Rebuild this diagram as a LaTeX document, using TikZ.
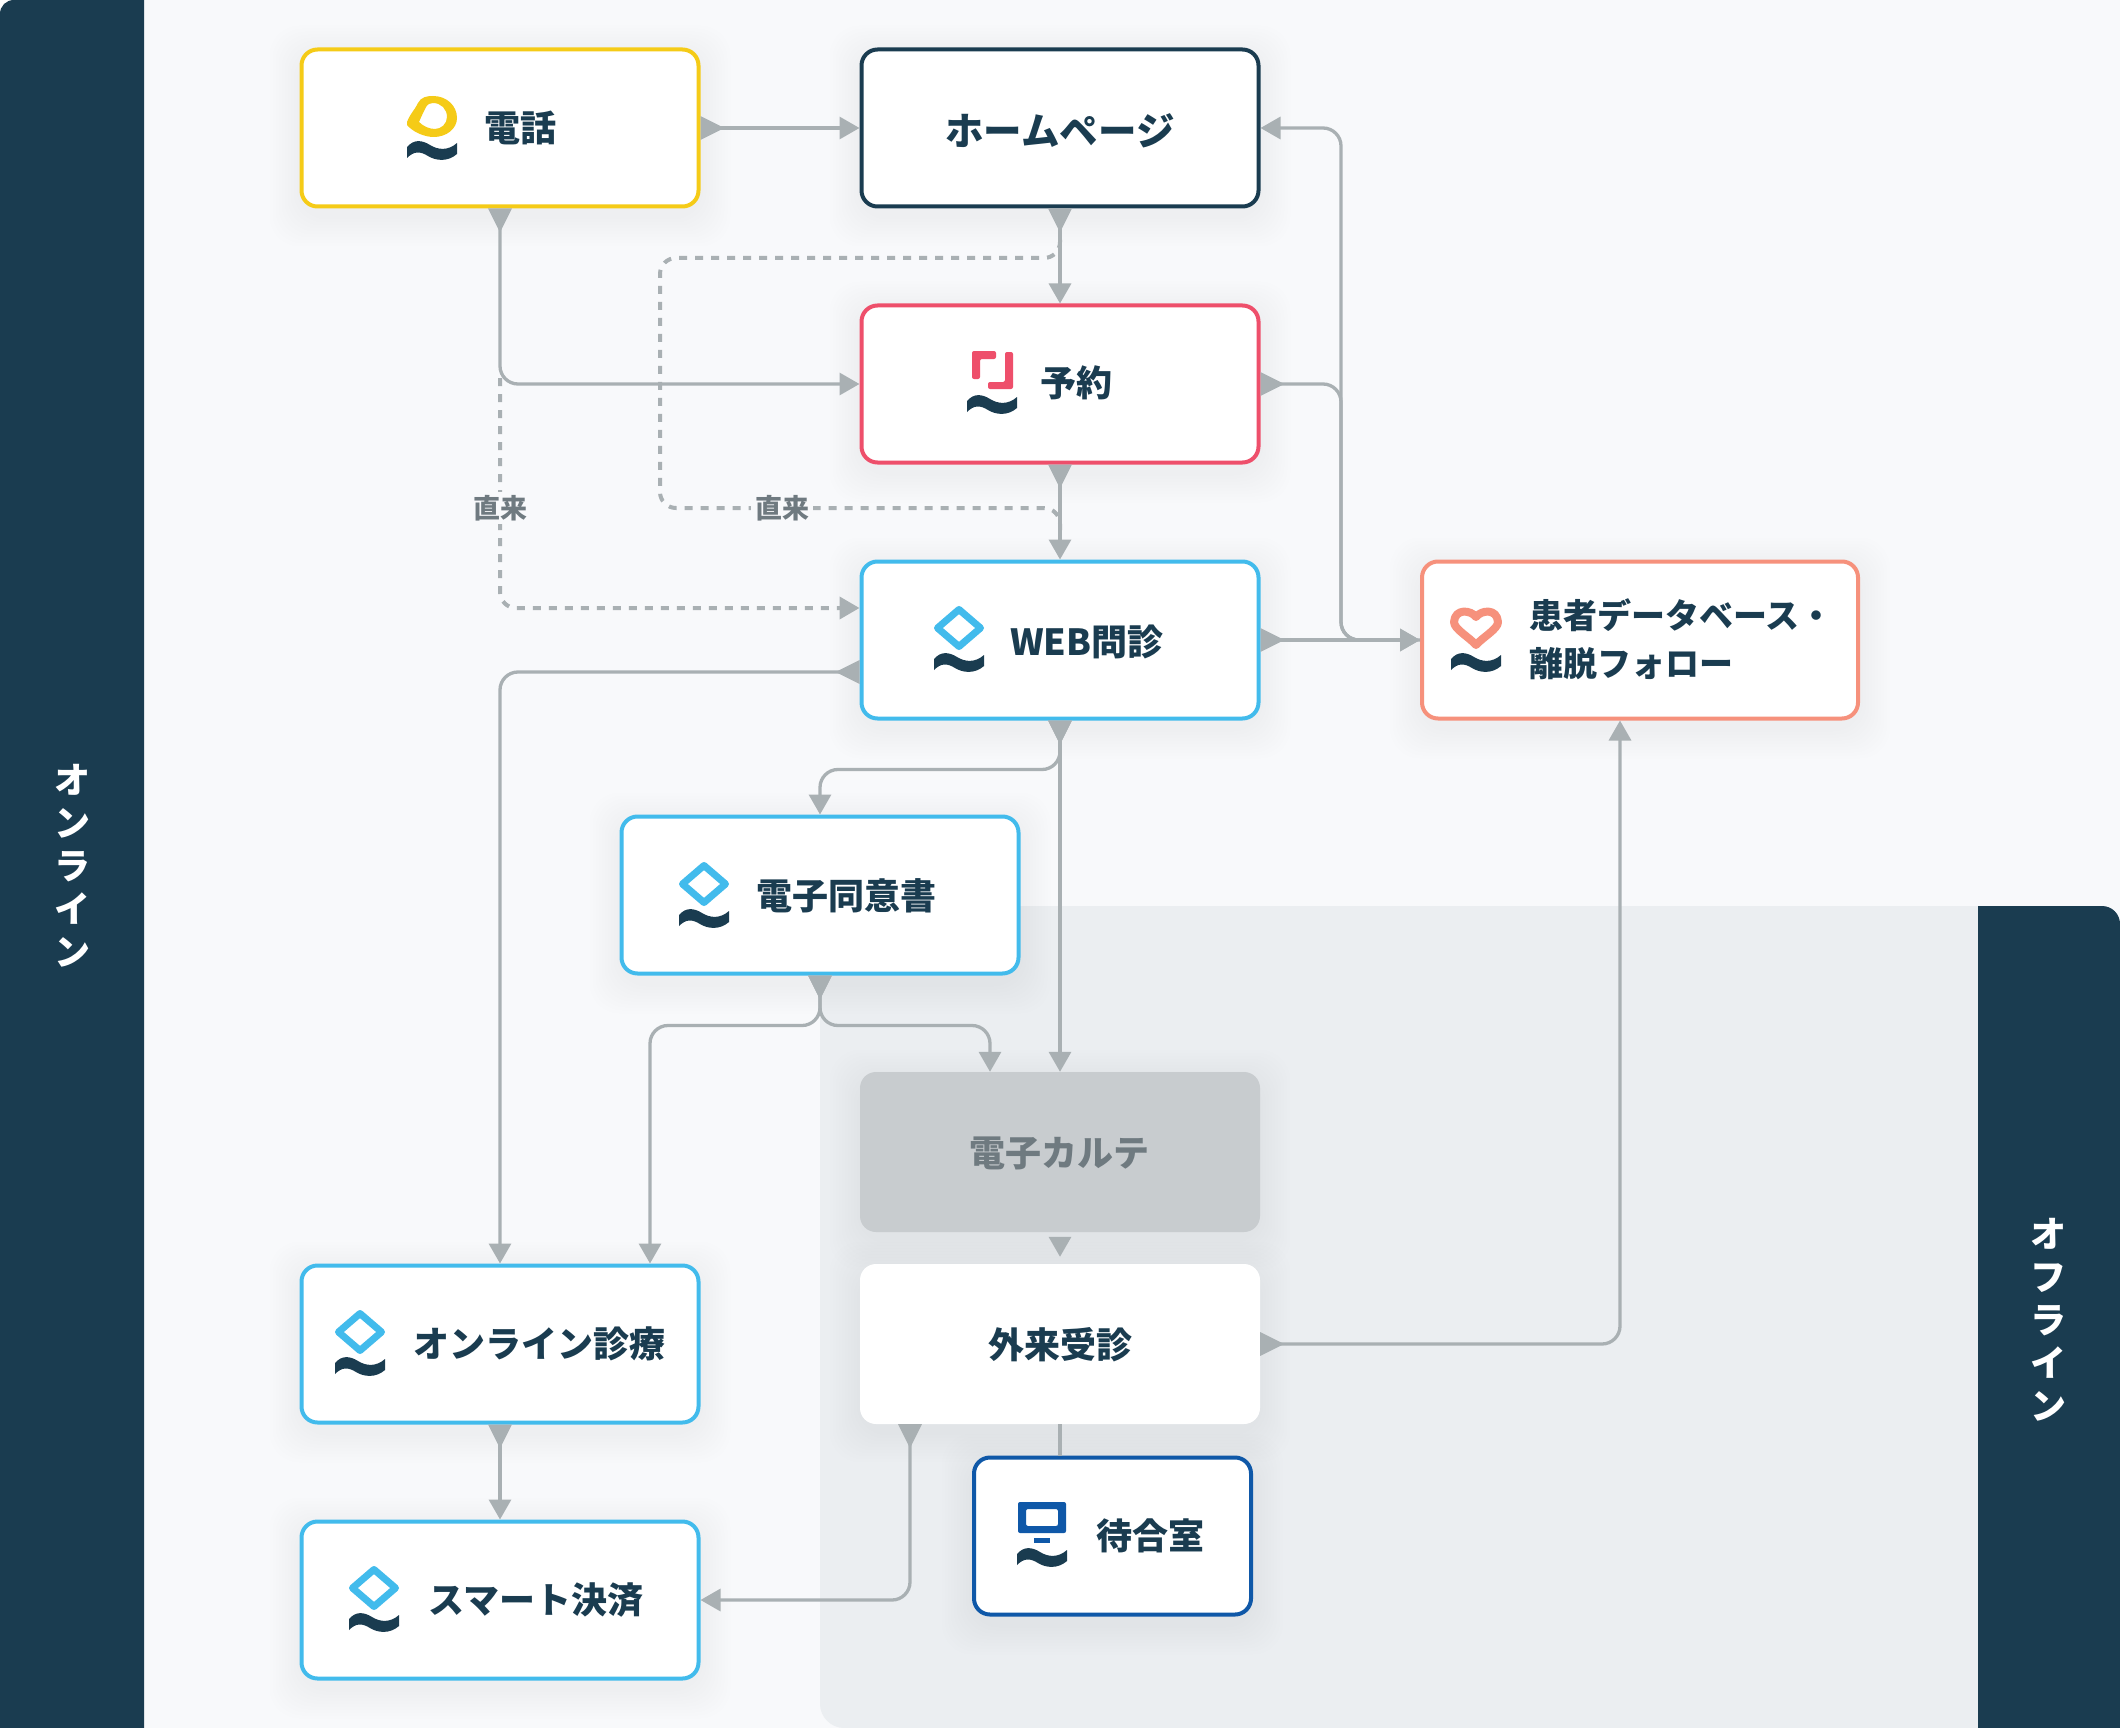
\documentclass[tikz,border=0pt]{standalone}
\usepackage{fontspec}
\setmainfont{Noto Sans CJK JP}[BoldFont=Noto Sans CJK JP Black]
\usetikzlibrary{arrows.meta,backgrounds}

\definecolor{navy}{HTML}{1A3C50}
\definecolor{pagebg}{HTML}{F8F9FB}
\definecolor{offbg}{HTML}{EBEEF1}
\definecolor{linegray}{HTML}{A9B0B3}
\definecolor{textgray}{HTML}{6F7A80}
\definecolor{kartebg}{HTML}{C8CCCF}
\definecolor{telyellow}{HTML}{F5CB17}
\definecolor{bookpink}{HTML}{EE4F6B}
\definecolor{webcyan}{HTML}{42BBEC}
\definecolor{heartred}{HTML}{F6917C}
\definecolor{roomblue}{HTML}{0F58A8}

\tikzset{
	box/.style={draw=#1,fill=white,rounded corners=16pt,line width=4pt,minimum width=397pt,minimum height=157pt,inner sep=0pt},
	plainbox/.style={fill=#1,rounded corners=16pt,minimum width=400pt,minimum height=160pt,inner sep=0pt},
	lbl/.style={font=\fontsize{36}{44}\selectfont\bfseries,text=navy,inner sep=0pt},
	sidelbl/.style={font=\fontsize{36}{43}\selectfont\bfseries,text=white,align=center,inner sep=0pt},
	directlbl/.style={font=\fontsize{27}{30}\selectfont\bfseries,text=textgray,fill=pagebg,inner xsep=4pt,inner ysep=3pt},
	conn/.style={draw=linegray,line width=3.3pt,rounded corners=18pt},
	flowin/.style={conn,-{Triangle[length=20pt,width=22pt]}},
	flowboth/.style={conn,{Triangle[reversed,length=24pt,width=23pt]}-{Triangle[length=20pt,width=22pt]}},
	dashline/.style={conn,line width=4pt,dash pattern=on 8pt off 8pt,rounded corners=16pt},
	pics/wave/.style={code={
		\fill[navy] (-25,-3) .. controls (-18,-11) and (-10,-10) .. (-2,-5) .. controls (6,0) and (16,1) .. (25,-7) -- (25,4) .. controls (16,12) and (4,11) .. (-4,6) .. controls (-12,1) and (-18,1) .. (-25,8) -- cycle;
	}},
	pics/teleicon/.style={code={
		\fill[telyellow,even odd rule] (-25,6) .. controls (-22,-2) and (-16,-8) .. (-14,-13) .. controls (-11,-19) and (-5,-20) .. (1,-20) .. controls (15,-20) and (25,-10) .. (25,2) .. controls (25,13) and (14,21) .. (2,21) .. controls (-8,21) and (-19,16) .. (-25,9) -- cycle
			(-13,6) .. controls (-10,-1) and (-8,-5) .. (-6,-9) .. controls (-4,-12) and (-2,-13) .. (1,-13) .. controls (9,-13) and (15,-7) .. (15,1) .. controls (15,8) and (9,13) .. (3,13) .. controls (-3,13) and (-9,10) .. (-13,6) -- cycle;
		\pic at (0,34) {wave};
	}},
	pics/bookicon/.style={code={
		\fill[bookpink,rounded corners=2pt] (-20,-19) -- (4,-19) -- (4,-11) -- (-12,-11) -- (-12,9) -- (-20,9) -- cycle;
		\fill[bookpink,rounded corners=2pt] (13,-18) -- (21,-18) -- (21,19) -- (-4,19) -- (-4,12) -- (13,12) -- cycle;
		\pic at (0,34) {wave};
	}},
	pics/webicon/.style={code={
		\draw[webcyan,line width=7pt,line join=round] (0,-18.5) -- (21.5,0) -- (0,18.5) -- (-21.5,0) -- cycle;
		\pic at (0,34) {wave};
	}},
	pics/hearticon/.style={code={
		\draw[heartred,line width=8pt,line join=round] (0,-10) .. controls (-5,-17) and (-21,-19) .. (-22,-5) .. controls (-22,2) and (-7,10) .. (0,18) .. controls (7,10) and (22,2) .. (22,-5) .. controls (21,-19) and (5,-17) .. (0,-10) -- cycle;
		\pic at (0,35) {wave};
	}},
	pics/roomicon/.style={code={
		\fill[roomblue,even odd rule,rounded corners=2pt] (-24,-28) rectangle (24,3) (-16,-21) rectangle (16,-4);
		\fill[roomblue] (-8,8) rectangle (8,13);
		\pic at (0,27) {wave};
	}},
}

\newcommand{\softshadow}[1]{
	\foreach \r in {3,6,...,30}
		\fill[navy,opacity=0.004,rounded corners=30pt] ([xshift=-\r pt,yshift=-\r pt-8pt]#1.south west) rectangle ([xshift=\r pt,yshift=\r pt-8pt]#1.north east);
}

\begin{document}
\begin{tikzpicture}[x=1pt,y=-1pt]
	\useasboundingbox (0,0) rectangle (2120,1728);

	% boxes
	\node[box=telyellow] (tel) at (500,128) {};
	\node[box=navy] (home) at (1060,128) {};
	\node[box=bookpink] (book) at (1060,384) {};
	\node[box=webcyan] (web) at (1060,640) {};
	\node[box=heartred,minimum width=436pt] (patient) at (1640,640) {};
	\node[box=webcyan] (consent) at (820,895) {};
	\node[plainbox=kartebg] (karte) at (1060,1152) {};
	\node[plainbox=white] (clinic) at (1060,1344) {};
	\node[box=webcyan] (online) at (500,1344) {};
	\node[box=webcyan] (smart) at (500,1600) {};
	\node[box=roomblue,minimum width=277pt] (room) at (1112.5,1536) {};

	% texts
	\node[lbl] (teltext) at (520,128) {電話};
	\node[lbl,font=\fontsize{38.5}{44}\selectfont\bfseries] (hometext) at (1060,131) {ホームページ};
	\node[lbl] (booktext) at (1076,383) {予約};
	\node[lbl] (webtext) at (1087,642) {WEB問診};
	\node[lbl,font=\fontsize{34}{48}\selectfont\bfseries,align=left,anchor=west] (patienttext) at (1529,639) {患者データベース・\\離脱フォロー};
	\node[lbl] (consenttext) at (846,896) {電子同意書};
	\node[lbl,text=textgray] (kartetext) at (1059,1153) {電子カルテ};
	\node[lbl] (clinictext) at (1060,1345) {外来受診};
	\node[lbl] (onlinetext) at (539,1344) {オンライン診療};
	\node[lbl] (smarttext) at (536,1600) {スマート決済};
	\node[lbl] (roomtext) at (1150,1536) {待合室};

	% icons
	\pic at (432,116) {teleicon};
	\pic at (992,370) {bookicon};
	\pic at (959,628) {webicon};
	\pic at (1476,627) {hearticon};
	\pic at (704,884) {webicon};
	\pic at (360,1332) {webicon};
	\pic at (374,1588) {webicon};
	\pic at (1042,1530) {roomicon};

	% direct visits, under the solid lines
	\coordinate (dashA) at (500,378);
	\coordinate (dashB) at (1060,240);
	\coordinate (dashC) at (1060,530);
	\draw[dashline] (dashB) |- (660,258) |- (dashC |- 0,508) -- (dashC);
	\draw[dashline,-{Triangle[length=20pt,width=22pt]}] (dashA) |- ([yshift=32pt]web.west);
	\node[directlbl] (directa) at (500,508) {直来};
	\node[directlbl] (directb) at (782,508) {直来};

	% connectors
	\draw[flowboth] (tel.east) -- (home.west);
	\draw[flowboth] (home.south) -- (book.north);
	\draw[flowboth] (book.south) -- (web.north);
	\draw[flowboth] (tel.south) |- (book.west);
	\draw[flowin] (patient.west) -| (1341,128) -- (home.east);
	\draw[flowboth] (book.east) -| (1341,640) -- (patient.west);
	\draw[flowboth] (web.east) -- (patient.west);
	\draw[flowboth] ([yshift=-32pt]web.west) -| (online.north);
	\draw[flowboth] (web.south) -- ++(0,49) -| (consent.north);
	\draw[flowboth] (web.south) -- (karte.north);
	\draw[flowboth] (consent.south) -- ++(0,50) -| ([xshift=150pt]online.north);
	\draw[flowboth] (consent.south) -- ++(0,50) -| ([xshift=-70pt]karte.north);
	\draw[flowin,shorten <=6pt,shorten >=7pt] (karte.south) -- (clinic.north);
	\draw[conn] (clinic.south) -- (clinic.south |- room.north);
	\draw[flowboth] (clinic.east) -| ([xshift=-20pt]patient.south);
	\draw[flowboth] (online.south) -- (smart.north);
	\draw[flowboth] ([xshift=-150pt]clinic.south) |- (smart.east);

	% bands and area behind everything
	\begin{scope}[on background layer]
		\fill[pagebg] (0,0) rectangle (2120,1728);
		\fill[white] (0,0) rectangle (14,14);
		\fill[navy] (0,1728) -- (0,14) .. controls (0,6) and (6,0) .. (14,0) -- (144,0) -- (144,1728) -- cycle;
		\fill[offbg] (820,906) -- (1978,906) -- (1978,1728) -- (844,1728) .. controls (831,1728) and (820,1717) .. (820,1704) -- cycle;
		\fill[navy] (1978,906) -- (2102,906) .. controls (2112,906) and (2120,914) .. (2120,924) -- (2120,1728) -- (1978,1728) -- cycle;
		\softshadow{tel}
		\softshadow{home}
		\softshadow{book}
		\softshadow{web}
		\softshadow{patient}
		\softshadow{consent}
		\softshadow{karte}
		\softshadow{clinic}
		\softshadow{online}
		\softshadow{smart}
		\softshadow{room}
	\end{scope}

	% side labels
	\node[sidelbl] (onlineside) at (72,866) {オ\\ン\\ラ\\イ\\ン};
	\node[sidelbl] (offlineside) at (2048,1320) {オ\\フ\\ラ\\イ\\ン};
\end{tikzpicture}
\end{document}
